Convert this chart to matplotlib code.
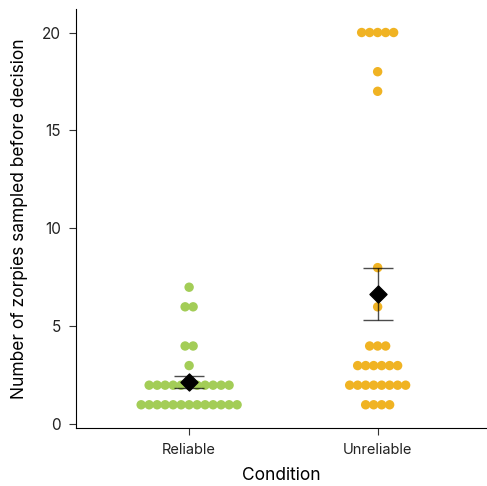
import numpy as np
import matplotlib.pyplot as plt

plt.rcParams['font.family'] = ['Inter', 'DejaVu Sans']

# data: value -> number of participants
conditions = ['Reliable', 'Unreliable']
reliable_values = [1, 2, 3, 4, 6, 7]
reliable_counts = [13, 11, 1, 2, 2, 1]
unreliable_values = [1, 2, 3, 4, 6, 8, 17, 18, 20]
unreliable_counts = [4, 8, 6, 3, 1, 1, 1, 1, 5]

colors = ['#a3cd57', '#f0b323']
dot_step = 0.0424


def dot_positions(center, values, counts):
    xs, ys = [], []
    for v, c in zip(values, counts):
        offs = (np.arange(c) - (c - 1) / 2) * dot_step
        xs.extend(center + offs)
        ys.extend([v] * c)
    return np.array(xs), np.array(ys)


fig = plt.figure(figsize=(4.87, 4.86), dpi=100)
ax = fig.add_axes([76 / 487, (486 - 427.7) / 486, 1 - 76 / 487, (427.7 - 9) / 486])

groups = [(reliable_values, reliable_counts), (unreliable_values, unreliable_counts)]
for i, (vals, cnts) in enumerate(groups):
    xs, ys = dot_positions(i, vals, cnts)
    ax.scatter(xs, ys, s=46, color=colors[i], edgecolor='none', zorder=2)
    data = np.repeat(vals, cnts)
    mean = data.mean()
    se = data.std(ddof=1) / np.sqrt(len(data))
    ax.errorbar(i, mean, yerr=se, fmt='none', ecolor='black', elinewidth=1,
                capsize=10.5, capthick=1, alpha=0.7, zorder=3)
    ax.scatter(i, mean, marker='D', s=75, color='black', zorder=4)

ax.set_xlim(-0.6, 1.58)
ax.set_ylim(-0.17, 21.2)
ax.set_xticks([0, 1])
ax.set_xticklabels(conditions)
ax.set_yticks([0, 5, 10, 15, 20])
ax.tick_params(axis='both', labelsize=10.5, length=5, width=0.8, color='#333333',
               labelcolor='#222222', pad=6)
ax.tick_params(axis='y', labelsize=11)
ax.spines['top'].set_visible(False)
ax.spines['right'].set_visible(False)
ax.set_xlabel('Condition', fontsize=12.5, labelpad=7)
ax.set_ylabel('Number of zorpies sampled before decision', fontsize=12.5, labelpad=10)

fig.savefig('out.png', dpi=100)
